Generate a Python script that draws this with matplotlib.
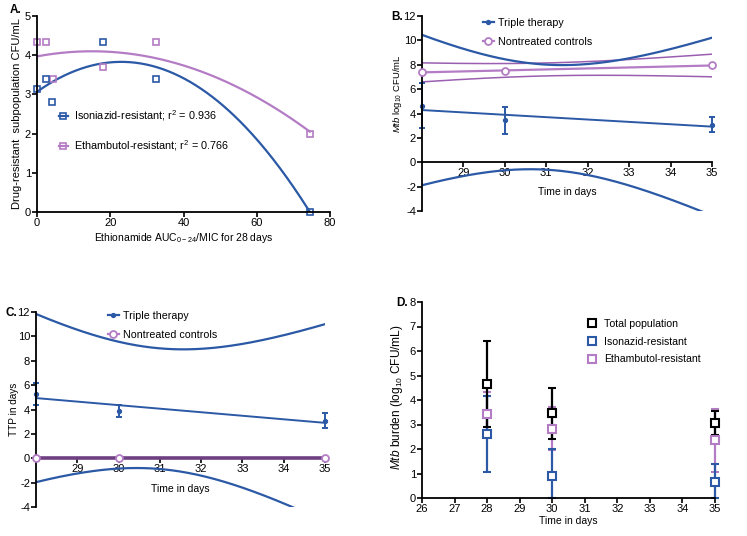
import numpy as np
import matplotlib
matplotlib.use("Agg")
import matplotlib.pyplot as plt
from matplotlib.lines import Line2D

plt.rcParams["font.family"] = ["Liberation Sans", "DejaVu Sans"]
plt.rcParams["axes.unicode_minus"] = False
plt.rcParams["mathtext.fontset"] = "custom"
plt.rcParams["mathtext.rm"] = "Liberation Sans"
plt.rcParams["mathtext.it"] = "Liberation Sans:italic"

BLUE = "#2b59a6"
PINK = "#b47cc4"
PURPLE = "#9a5fb0"

# ---- panel A: resistant subpopulations vs exposure
a_inh_x = [0, 2.5, 4, 18, 32.5, 74.5]
a_inh_y = [3.15, 3.4, 2.8, 4.33, 3.4, 0.0]
a_emb_x = [0, 2.5, 4.5, 18, 32.5, 74.5]
a_emb_y = [4.33, 4.33, 3.4, 3.7, 4.33, 2.0]
# quadratic fits: (vertex x, vertex y, value at last x)
a_inh_fit = [23.0, 3.83, 0.0]
a_emb_fit = [15.0, 4.10, 2.05]
a_labels = ["Isoniazid-resistant; r$^2$ = 0.936", "Ethambutol-resistant; r$^2$ = 0.766"]

# ---- panel B: Mtb log10 CFU/mL
b_days = [28, 30, 35]
b_tri_mean = [4.6, 3.45, 3.05]
b_tri_lo = [2.8, 2.35, 2.45]
b_tri_hi = [6.5, 4.55, 3.7]
b_ctl_mean = [7.4, 7.5, 7.95]
b_tri_band = [4.31, 6.17]   # CI half-width at mean day, at day 28
b_ctl_band = [0.53, 0.78]

# ---- panel C: TTP in days
c_days = [28, 30, 35]
c_tri_mean = [5.3, 3.85, 3.05]
c_tri_lo = [4.4, 3.35, 2.45]
c_tri_hi = [6.2, 4.35, 3.7]
c_ctl_mean = [0.0, 0.0, 0.0]
c_tri_band = [4.95, 6.9]

# ---- panel D: burden by population
d_days = [28, 30, 35]
d_tot = [4.65, 3.45, 3.07]
d_tot_lo = [2.9, 2.42, 2.58]
d_tot_hi = [6.4, 4.48, 3.57]
d_inh = [2.6, 0.88, 0.67]
d_inh_lo = [1.05, 0.0, 0.0]
d_inh_hi = [4.15, 2.0, 1.4]
d_emb = [3.43, 2.83, 2.37]
d_emb_lo = [2.55, 1.97, 1.05]
d_emb_hi = [4.32, 3.7, 3.65]
d_labels = ["Total population", "Isonazid-resistant", "Ethambutol-resistant"]

W, H = 747, 536
fig = plt.figure(figsize=(W / 100, H / 100), dpi=100)


def px_axes(l, t, r, b):
    return fig.add_axes([l / W, 1 - b / H, (r - l) / W, (b - t) / H])


def style(ax):
    for s in ("top", "right"):
        ax.spines[s].set_visible(False)
    for s in ("left", "bottom"):
        ax.spines[s].set_linewidth(1.3)
    ax.tick_params(direction="out", length=3.5, width=1.2, labelsize=8, pad=0.8)


def noclip(cont):
    for art in cont.get_children():
        art.set_clip_on(False)


def vertex_curve(xs, fit):
    vx, vy, yend = fit
    a = (yend - vy) / (xs[-1] - vx) ** 2
    return vy + a * (xs - vx) ** 2


def reg_band(days, mean, band, xs):
    slope, icpt = np.polyfit(days, mean, 1)
    line = icpt + slope * xs
    x0 = np.mean(days)
    k = (band[1] ** 2 - band[0] ** 2) / (days[0] - x0) ** 2
    h = np.sqrt(band[0] ** 2 + k * (xs - x0) ** 2)
    return line, line + h, line - h


# ================= A
ax = px_axes(37, 16, 330, 212)
style(ax)
xs = np.linspace(0, a_inh_x[-1], 200)
ax.plot(xs, vertex_curve(xs, a_emb_fit), color=PINK, lw=1.6)
ax.plot(xs, vertex_curve(xs, a_inh_fit), color=BLUE, lw=1.6)
ax.plot(a_emb_x, a_emb_y, "s", ms=5, mfc="none", mec=PINK, mew=1.2, clip_on=False)
ax.plot(a_inh_x, a_inh_y, "s", ms=5, mfc="none", mec=BLUE, mew=1.2, clip_on=False)
ax.set_xlim(0, 80)
ax.set_ylim(0, 5)
ax.set_xticks([0, 20, 40, 60, 80])
ax.set_yticks(range(6))
ax.set_xlabel("Ethionamide AUC$_{0-24}$/MIC for 28 days", fontsize=7.5, labelpad=2)
ax.set_ylabel("Drug-resistant  subpopulation CFU/mL", fontsize=8)
ax.yaxis.set_label_coords(-0.05, 0.5)
h = [Line2D([], [], color=BLUE, lw=1.6, marker="s", ms=5, mfc="none", mew=1.2),
     Line2D([], [], color=PINK, lw=1.6, marker="s", ms=5, mfc="none", mew=1.2)]
ax.legend(h, a_labels, loc="upper left", bbox_to_anchor=(0.075, 0.53), frameon=False,
          fontsize=7.8, handlelength=0.8, handletextpad=0.55, labelspacing=1.45,
          borderpad=0, borderaxespad=0)

# ================= B
ax = px_axes(422, 16, 712, 211)
style(ax)
ax.spines["bottom"].set_position(("data", 0))
xs = np.linspace(28, 35, 200)
ln, up, lo = reg_band(b_days, b_ctl_mean, b_ctl_band, xs)
ax.plot(xs, up, color=PURPLE, lw=1.1)
ax.plot(xs, lo, color=PURPLE, lw=1.1)
ax.plot(xs, ln, color=PINK, lw=1.6)
ax.plot(b_days, b_ctl_mean, "o", ms=5, mfc="white", mec=PINK, mew=1.3, ls="none", clip_on=False, zorder=4)
ln, up, lo = reg_band(b_days, b_tri_mean, b_tri_band, xs)
ax.plot(xs, up, color=BLUE, lw=1.6)
ax.plot(xs, lo, color=BLUE, lw=1.6)
ax.plot(xs, ln, color=BLUE, lw=1.4)
yerr = [np.subtract(b_tri_mean, b_tri_lo), np.subtract(b_tri_hi, b_tri_mean)]
eb = ax.errorbar(b_days, b_tri_mean, yerr=yerr, fmt="o", ms=2.8, color=BLUE, elinewidth=1.4,
                 capsize=2.5, capthick=1.4)
noclip(eb)
ax.set_xlim(28, 35)
ax.set_ylim(-4, 12)
ax.set_xticks(range(29, 36))
ax.set_yticks(range(-4, 13, 2))
ax.set_xlabel("Time in days", fontsize=7.5)
ax.xaxis.set_label_coords(0.5, 0.125)
ax.set_ylabel("$\\it{Mtb}$ log$_{10}$ CFU/mL", fontsize=6.8)
ax.yaxis.set_label_coords(-0.062, 0.6)
h = [Line2D([], [], color=BLUE, lw=1.6, marker="o", ms=2.8),
     Line2D([], [], color=PINK, lw=1.6, marker="o", ms=5, mfc="white", mew=1.3)]
ax.legend(h, ["Triple therapy", "Nontreated controls"], loc="upper left",
          bbox_to_anchor=(0.21, 0.99), frameon=False, fontsize=7.7, handlelength=1.0,
          handletextpad=0.45, labelspacing=0.85, borderpad=0, borderaxespad=0)

# ================= C
ax = px_axes(36, 312, 325, 507)
style(ax)
ax.spines["bottom"].set_position(("data", 0))
xs = np.linspace(28, 35, 200)
ln, up, lo = reg_band(c_days, c_tri_mean, c_tri_band, xs)
ax.plot(xs, up, color=BLUE, lw=1.6)
ax.plot(xs, lo, color=BLUE, lw=1.6)
ax.plot(xs, ln, color=BLUE, lw=1.4)
yerr = [np.subtract(c_tri_mean, c_tri_lo), np.subtract(c_tri_hi, c_tri_mean)]
eb = ax.errorbar(c_days, c_tri_mean, yerr=yerr, fmt="o", ms=2.8, color=BLUE, elinewidth=1.4,
                 capsize=2.5, capthick=1.4)
noclip(eb)
ax.plot(c_days, c_ctl_mean, color="#6e3f82", lw=2.6, clip_on=False, zorder=3)
ax.plot(c_days, c_ctl_mean, "o", ms=5, mfc="white", mec=PINK, mew=1.3, ls="none", clip_on=False, zorder=4)
ax.set_xlim(28, 35)
ax.set_ylim(-4, 12)
ax.set_xticks(range(29, 36))
ax.set_yticks(range(-4, 13, 2))
ax.set_xlabel("Time in days", fontsize=7.5)
ax.xaxis.set_label_coords(0.5, 0.12)
ax.set_ylabel("TTP in days", fontsize=7.2)
ax.yaxis.set_label_coords(-0.06, 0.5)
h = [Line2D([], [], color=BLUE, lw=1.6, marker="o", ms=2.8),
     Line2D([], [], color=PINK, lw=1.6, marker="o", ms=5, mfc="white", mew=1.3)]
ax.legend(h, ["Triple therapy", "Nontreated controls"], loc="upper left",
          bbox_to_anchor=(0.249, 1.005), frameon=False, fontsize=7.7, handlelength=1.0,
          handletextpad=0.45, labelspacing=0.85, borderpad=0, borderaxespad=0)

# ================= D
ax = px_axes(422, 302, 715, 498)
style(ax)
for m, lo_, hi_, col in [(d_emb, d_emb_lo, d_emb_hi, PINK),
                         (d_inh, d_inh_lo, d_inh_hi, BLUE),
                         (d_tot, d_tot_lo, d_tot_hi, "black")]:
    yerr = [np.subtract(m, lo_), np.subtract(hi_, m)]
    eb = ax.errorbar(d_days, m, yerr=yerr, fmt="s", ms=5.5, mfc="white", mec=col, mew=1.5,
                     color=col, elinewidth=1.6, capsize=3, capthick=1.6)
    noclip(eb)
ax.set_xlim(26, 35)
ax.set_ylim(0, 8)
ax.set_xticks(range(26, 36))
ax.set_yticks(range(9))
ax.set_xlabel("Time in days", fontsize=7.5, labelpad=1.5)
ax.set_ylabel("$\\it{Mtb}$ burden (log$_{10}$ CFU/mL)", fontsize=8.6)
ax.yaxis.set_label_coords(-0.058, 0.515)
h = [Line2D([], [], ls="none", marker="s", ms=5.5, mfc="white", mec=c, mew=1.5)
     for c in ("black", BLUE, PINK)]
ax.legend(h, d_labels, loc="upper left", bbox_to_anchor=(0.565, 0.915), frameon=False,
          fontsize=7.6, handlelength=0.8, handletextpad=0.75, labelspacing=0.75,
          borderpad=0, borderaxespad=0)

# panel letters
for lab, x, y in [("A.", 21, 10), ("B.", 403, 17), ("C.", 17, 313), ("D.", 408, 303)]:
    fig.text(x / W, 1 - y / H, lab, fontsize=8.5, fontweight="bold", va="center", ha="right")

fig.savefig("out.png", dpi=100)
